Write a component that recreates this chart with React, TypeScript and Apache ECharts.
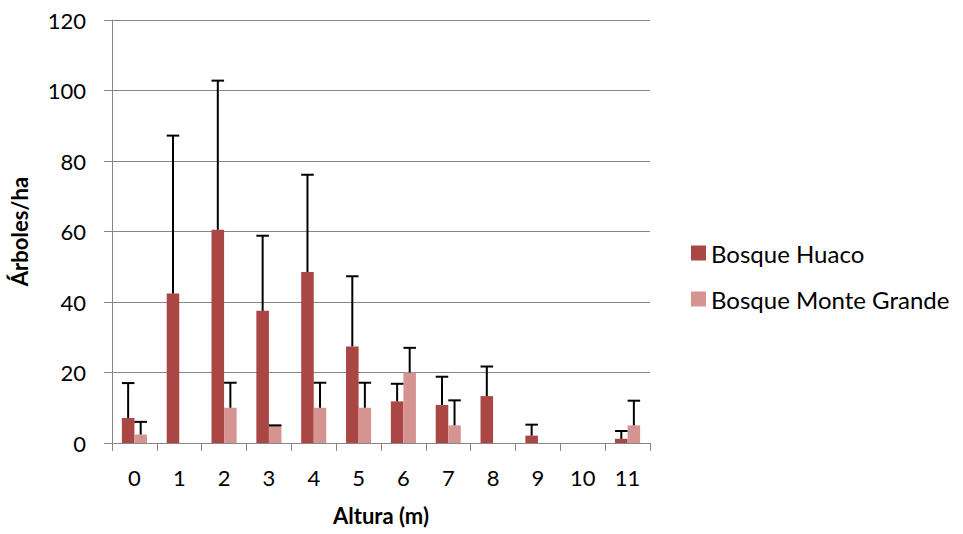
import React, { useEffect, useRef } from "react";
import * as echarts from "echarts";

const categories = ["0", "1", "2", "3", "4", "5", "6", "7", "8", "9", "10", "11"];
const huaco = [7.1, 42.4, 60.5, 37.5, 48.5, 27.4, 11.8, 10.8, 13.3, 2.1, 0, 1.2];
const huacoErr = [9.9, 44.8, 42.3, 21.3, 27.6, 19.9, 5.0, 8.0, 8.4, 3.1, null, 2.2];
const monte = [2.4, 0, 10, 5, 10, 10, 20, 5, 0, 0, 0, 5];
const monteErr = [3.6, null, 7.1, 0, 7.1, 7.1, 7.0, 7.1, null, null, null, 7.0];
const yTicks = { min: 0, max: 120, interval: 20 };

const FONT = "Lato";
const BAR_FRAC = 0.28;

function errData(vals: number[], errs: (number | null)[]) {
  const out: number[][] = [];
  vals.forEach((v, i) => {
    const e = errs[i];
    if (e !== null && e !== undefined) out.push([i, v, e]);
  });
  return out;
}

function makeErrRender(side: number) {
  return (params: any, api: any) => {
    const idx = api.value(0);
    const val = api.value(1);
    const err = api.value(2);
    const bw = api.size([1, 0])[0] * BAR_FRAC;
    const base = api.coord([idx, val]);
    const top = api.coord([idx, val + err]);
    const x = base[0] + side * bw / 2;
    const style = { stroke: "#000", lineWidth: 2, fill: "none" };
    return {
      type: "group",
      children: [
        { type: "line", shape: { x1: x, y1: base[1], x2: x, y2: top[1] }, style },
        { type: "line", shape: { x1: x - bw / 2, y1: top[1], x2: x + bw / 2, y2: top[1] }, style },
      ],
    };
  };
}

export default function App() {
  const ref = useRef<HTMLDivElement>(null);
  useEffect(() => {
    if (!ref.current) return;
    const chart = echarts.init(ref.current, undefined, { renderer: "svg" });
    const gray = "#868686";
    chart.setOption({
      animation: false,
      textStyle: { fontFamily: FONT },
      grid: { left: 109, right: 313, top: 20, bottom: 91, containLabel: false },
      legend: {
        orient: "vertical",
        left: 686,
        top: 236,
        itemWidth: 15,
        itemHeight: 15,
        itemGap: 22,
        textStyle: { fontFamily: FONT, fontSize: 24, color: "#000" },
        data: [
          { name: "Bosque Huaco", icon: "rect" },
          { name: "Bosque Monte Grande", icon: "rect" },
        ],
      },
      xAxis: {
        type: "category",
        data: categories,
        boundaryGap: true,
        name: "Altura (m)",
        nameLocation: "middle",
        nameGap: 61,
        nameTextStyle: { fontFamily: FONT, fontSize: 22, fontWeight: "bold", color: "#000" },
        axisLine: { show: true, lineStyle: { color: gray, width: 1 } },
        axisTick: { show: true, alignWithLabel: false, length: 8, lineStyle: { color: gray } },
        axisLabel: { fontFamily: FONT, fontSize: 22, color: "#000", margin: 23, interval: 0 },
      },
      yAxis: {
        type: "value",
        min: yTicks.min,
        max: yTicks.max,
        interval: yTicks.interval,
        name: "Árboles/ha",
        nameLocation: "middle",
        nameGap: 82,
        nameTextStyle: { fontFamily: FONT, fontSize: 22, fontWeight: "bold", color: "#000" },
        axisLine: { show: true, lineStyle: { color: gray, width: 1 } },
        axisTick: { show: true, length: 8, lineStyle: { color: gray } },
        splitLine: { show: true, lineStyle: { color: gray, width: 1 } },
        axisLabel: { fontFamily: FONT, fontSize: 22, color: "#000", margin: 26 },
      },
      series: [
        {
          name: "Bosque Huaco",
          type: "bar",
          data: huaco,
          barWidth: BAR_FRAC * 100 + "%",
          barGap: "0%",
          itemStyle: { color: "#AA4643" },
        },
        {
          name: "Bosque Monte Grande",
          type: "bar",
          data: monte,
          barWidth: BAR_FRAC * 100 + "%",
          barGap: "0%",
          itemStyle: { color: "#D59492" },
        },
        {
          type: "custom",
          name: "errH",
          data: errData(huaco, huacoErr),
          encode: { x: 0, y: 1 },
          renderItem: makeErrRender(-1),
          z: 10,
        },
        {
          type: "custom",
          name: "errM",
          data: errData(monte, monteErr),
          encode: { x: 0, y: 1 },
          renderItem: makeErrRender(1),
          z: 10,
        },
      ],
    });
    return () => chart.dispose();
  }, []);
  return (
    <div
      ref={ref}
      style={{ position: "fixed", left: 0, top: 0, width: 963, height: 534, background: "#fff" }}
    />
  );
}
